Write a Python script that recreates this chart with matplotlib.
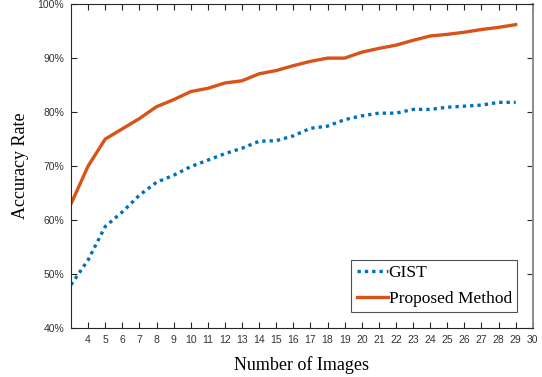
import matplotlib.pyplot as plt
from matplotlib.ticker import PercentFormatter

# Recognition accuracy vs. number of training images
num_images = list(range(3, 30))
gist_acc = [48.0, 52.6, 58.8, 61.5, 64.6, 67.0, 68.3, 69.9, 71.1, 72.3, 73.3, 74.6, 74.7,
            75.6, 77.0, 77.4, 78.6, 79.3, 79.8, 79.8, 80.5, 80.5, 80.9, 81.1, 81.3, 81.8, 81.8]
proposed_acc = [63.0, 70.0, 75.0, 76.9, 78.8, 81.0, 82.3, 83.8, 84.4, 85.4, 85.8, 87.1, 87.7,
                88.6, 89.4, 90.0, 90.0, 91.1, 91.8, 92.4, 93.3, 94.1, 94.4, 94.8, 95.3, 95.7, 96.2]
xticks = list(range(4, 31))
yticks = [40, 50, 60, 70, 80, 90, 100]

fig = plt.figure(figsize=(5.42, 3.77), dpi=100)
ax = fig.add_axes([0.131, 0.130, 0.852, 0.859])

ax.plot(num_images, gist_acc, color='#0072BD', lw=2.4, linestyle=(0, (1, 1.2)), label='GIST')
ax.plot(num_images, proposed_acc, color='#D95319', lw=2.4, label='Proposed Method')

ax.set_xlim(3, 30)
ax.set_ylim(40, 100)
ax.set_xticks(xticks)
ax.set_yticks(yticks)
ax.yaxis.set_major_formatter(PercentFormatter(decimals=0))

ax.tick_params(direction='in', top=True, right=True, length=4, width=0.8,
               labelsize=7.5, labelcolor='#333333', color='#262626', pad=5)
for lab in ax.get_xticklabels() + ax.get_yticklabels():
    lab.set_family('Liberation Sans')
for side in ['left', 'bottom', 'top']:
    ax.spines[side].set_color('#262626')
    ax.spines[side].set_linewidth(0.8)
ax.spines['right'].set_color('#8c8c8c')
ax.spines['right'].set_linewidth(1.4)

ax.set_xlabel('Number of Images', family='Liberation Serif', fontsize=13, labelpad=8)
ax.set_ylabel('Accuracy Rate', family='Liberation Serif', fontsize=13, labelpad=6)

leg = ax.legend(loc='lower right', prop={'family': 'Liberation Serif', 'size': 12.5},
                frameon=True, fancybox=False, edgecolor='#262626', handlelength=1.8,
                handletextpad=0.05, borderaxespad=0.9, borderpad=0.3, labelspacing=0.55)
leg.get_frame().set_linewidth(0.8)

fig.savefig('out.png', dpi=100)
